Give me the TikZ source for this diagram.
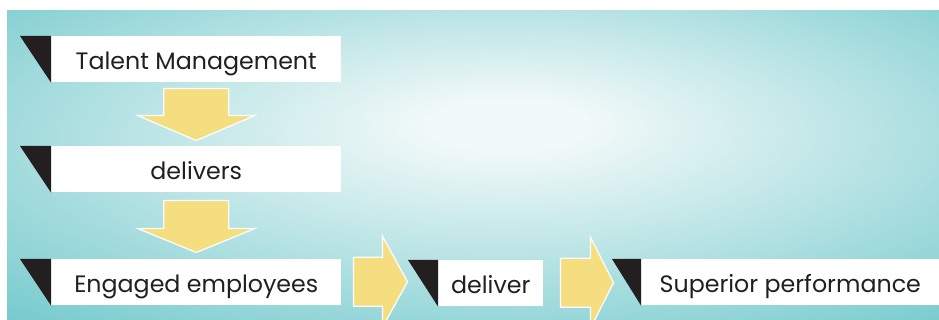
\documentclass[tikz,border=0pt]{standalone}
\usepackage{fontspec}
\setmainfont{Poppins}
\usepackage{tikz}
\usetikzlibrary{positioning,calc}

\definecolor{tealbg}{HTML}{78CBCE}
\definecolor{glowin}{HTML}{F2F9F9}
\definecolor{notchblack}{HTML}{231F20}
\definecolor{arrowyellow}{HTML}{F4DE80}
\pgfdeclareradialshading{glow}{\pgfpoint{2bp}{7bp}}{color(0bp)=(glowin); color(4bp)=(glowin); color(38bp)=(tealbg); color(70bp)=(tealbg)}

\begin{document}
\begin{tikzpicture}[
  x=0.75pt, y=-0.75pt,
  font=\fontsize{17.8}{20}\selectfont,
  tag/.style={fill=white, text=notchblack, anchor=north west, inner sep=0pt,
    minimum height=34.5pt, text height=16pt, text depth=1pt},
  notch/.style={fill=notchblack},
  blockarrow/.style={fill=arrowyellow, draw=white, line width=0.9pt, line join=miter}
]
\useasboundingbox (0,0) rectangle (939,320);
\fill[white] (0,0) rectangle (939,320);
\shade[shading=glow] (7,11) rectangle (939,320);

% boxes
\node[tag, minimum width=217.5pt] (tm) at (51,36) {Talent Management};
\node[tag, minimum width=217.5pt] (dls) at (51,146) {delivers};
\node[tag, minimum width=217.5pt] (ee) at (51,259) {Engaged employees};
\node[tag, minimum width=78.75pt] (dl) at (438,260) {deliver};
\node[tag, minimum width=223.5pt] (sp) at (641,259) {Superior performance};

% black notches
\fill[notch] (tm.north west) -- ++(-31,0) -- (tm.south west) -- cycle;
\fill[notch] (dls.north west) -- ++(-31,0) -- (dls.south west) -- cycle;
\fill[notch] (ee.north west) -- ++(-31,0) -- (ee.south west) -- cycle;
\fill[notch] (dl.north west) -- ++(-30,0) -- (dl.south west) -- cycle;
\fill[notch] (sp.north west) -- ++(-29,0) -- (sp.south west) -- cycle;

% block arrows
\draw[blockarrow] ($(tm.south)+(-32.5,6)$) -- ++(65,0) -- ++(0,27) -- ++(26,0)
  -- ++(-58.5,25) -- ++(-58.5,-25) -- ++(26,0) -- cycle;
\draw[blockarrow] ($(dls.south)+(-32.5,8)$) -- ++(65,0) -- ++(0,28) -- ++(26,0)
  -- ++(-58.5,24) -- ++(-58.5,-24) -- ++(26,0) -- cycle;
\draw[blockarrow] ($(ee.east)+(12,-25)$) -- ++(29,0) -- ++(0,-21) -- ++(25,45.5)
  -- ++(-25,45.5) -- ++(0,-21) -- ++(-29,0) -- cycle;
\draw[blockarrow] ($(dl.east)+(17,-25)$) -- ++(30,0) -- ++(0,-21) -- ++(23,45.5)
  -- ++(-23,45.5) -- ++(0,-21) -- ++(-30,0) -- cycle;
\end{tikzpicture}
\end{document}
